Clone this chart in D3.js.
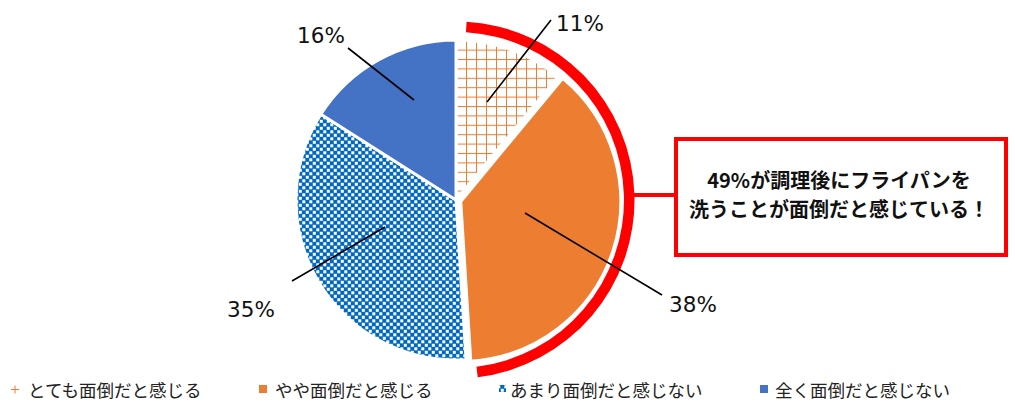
<!DOCTYPE html>
<html><head><meta charset="utf-8">
<script src="https://cdn.jsdelivr.net/npm/d3@7"></script>
<style>body{margin:0;background:#fff}svg{display:block}</style>
</head><body><svg id="c" width="1015" height="406"></svg>
<script>
// ---- data ----
const categories = ["とても面倒だと感じる","やや面倒だと感じる","あまり面倒だと感じない","全く面倒だと感じない"];
const values = [11, 38, 35, 16];
const valueLabels = ["11%", "38%", "35%", "16%"];
const highlighted = [0, 1];            // 11% + 38% = 49%
const calloutLines = ["49%が調理後にフライパンを", "洗うことが面倒だと感じている！"];

// ---- layout / style ----
const W = 1015, H = 406, cx = 456, cy = 200, R = 160;
const fills = ["url(#hatch)", "#ED7D31", "url(#checker)", "#4472C4"];
const explode = [0, 5, 0, 0];
// label leader layout relative to centre: inner point, outer point, text anchor (centre, baseline)
const labelLayout = [
  {inner:[31,-98],  outer:[95,-180],  text:[124,-169]},
  {inner:[69,13],   outer:[206,95],   text:[237,112]},
  {inner:[-71,27],  outer:[-164,81],  text:[-205,117]},
  {inner:[-42,-100],outer:[-108,-152],text:[-135,-157]}
];
const legendX = [10, 259, 499, 760];
const legendTextX = [28, 275, 510, 775];

const svg = d3.select("#c");
const defs = svg.append("defs");
const hp = defs.append("pattern").attr("id","hatch").attr("patternUnits","userSpaceOnUse")
  .attr("width",10).attr("height",9.4);
hp.append("rect").attr("width",10).attr("height",9.4).attr("fill","#fff");
hp.append("line").attr("x1",0.5).attr("x2",0.5).attr("y1",0).attr("y2",9.4).attr("stroke","#ED7D31").attr("stroke-width",1);
hp.append("line").attr("x1",0).attr("x2",10).attr("y1",0.5).attr("y2",0.5).attr("stroke","#ED7D31").attr("stroke-width",1);
const cp = defs.append("pattern").attr("id","checker").attr("patternUnits","userSpaceOnUse")
  .attr("width",7).attr("height",7);
cp.append("rect").attr("width",7).attr("height",7).attr("fill","#0068C0");
cp.append("rect").attr("x",0.3).attr("y",0.3).attr("width",3).attr("height",3).attr("fill","#fff");
cp.append("rect").attr("x",3.8).attr("y",3.8).attr("width",3).attr("height",3).attr("fill","#fff");

const pie = d3.pie().sort(null).value(d => d)(values);
const arc = d3.arc().innerRadius(0).outerRadius(R);
const g = svg.append("g").attr("transform", `translate(${cx},${cy})`);

g.selectAll("path.slice").data(pie).join("path")
  .attr("class","slice")
  .attr("d", arc)
  .attr("fill", (d,i) => fills[i])
  .attr("stroke", "#fff").attr("stroke-width", 3).attr("stroke-linejoin","round")
  .attr("transform", (d,i) => {
    const a = (d.startAngle + d.endAngle) / 2;
    return `translate(${Math.sin(a)*explode[i]},${-Math.cos(a)*explode[i]})`;
  });

// red highlight arc
const pad = 3.4 * Math.PI / 180;
const a0 = pie[highlighted[0]].startAngle + pad;
const a1 = pie[highlighted[highlighted.length-1]].endAngle - pad;
g.append("path")
  .attr("d", d3.arc().innerRadius(168).outerRadius(178.5).startAngle(a0).endAngle(a1)())
  .attr("fill", "#FF0000");

// leaders and labels
g.selectAll("line.leader").data(labelLayout).join("line")
  .attr("class","leader")
  .attr("x1", d => d.inner[0]).attr("y1", d => d.inner[1])
  .attr("x2", d => d.outer[0]).attr("y2", d => d.outer[1])
  .attr("stroke", "#000").attr("stroke-width", 1.6);
g.selectAll("text.lbl").data(labelLayout).join("text")
  .attr("class","lbl")
  .attr("x", d => d.text[0]).attr("y", d => d.text[1])
  .attr("text-anchor","middle")
  .attr("font-family","'DejaVu Sans', sans-serif").attr("font-size", 21.5).attr("fill","#111")
  .text((d,i) => valueLabels[i]);

// callout box
const bx = 676, by = 139, bw = 330, bh = 116;
svg.append("line").attr("x1", cx + 178).attr("x2", bx).attr("y1", 195).attr("y2", 195)
  .attr("stroke", "#FF0000").attr("stroke-width", 4);
svg.append("rect").attr("x", bx).attr("y", by).attr("width", bw).attr("height", bh)
  .attr("fill", "#fff").attr("stroke", "#FF0000").attr("stroke-width", 4);
const ct = svg.append("text")
  .attr("text-anchor","middle")
  .attr("font-family","'Noto Sans CJK JP', sans-serif").attr("font-weight","bold")
  .attr("font-size", 20).attr("fill","#111");
ct.selectAll("tspan").data(calloutLines).join("tspan")
  .attr("x", bx + bw/2 - 2).attr("y", (d,i) => 188 + i*29)
  .text(d => d);

// legend
const lg = svg.append("g");
const ly = 385;
// hatch marker: small cross
const m0 = lg.append("g").attr("transform", `translate(${legendX[0]},${ly})`);
m0.append("line").attr("x1",1).attr("x2",9).attr("y1",4.5).attr("y2",4.5).attr("stroke","#ED7D31").attr("stroke-width",1);
m0.append("line").attr("x1",5).attr("x2",5).attr("y1",0.5).attr("y2",8.5).attr("stroke","#ED7D31").attr("stroke-width",1);
lg.append("rect").attr("x", legendX[1]).attr("y", ly).attr("width", 8).attr("height", 8).attr("fill", fills[1]);
lg.append("rect").attr("x", legendX[2]).attr("y", ly).attr("width", 7).attr("height", 7).attr("fill", fills[2]);
lg.append("rect").attr("x", legendX[3]).attr("y", ly).attr("width", 8).attr("height", 8).attr("fill", fills[3]);
lg.selectAll("text").data(categories).join("text")
  .attr("x", (d,i) => legendTextX[i]).attr("y", 397)
  .attr("font-family","'Noto Sans CJK JP', sans-serif").attr("font-size", 17.5).attr("fill","#222")
  .text(d => d);
</script></body></html>
